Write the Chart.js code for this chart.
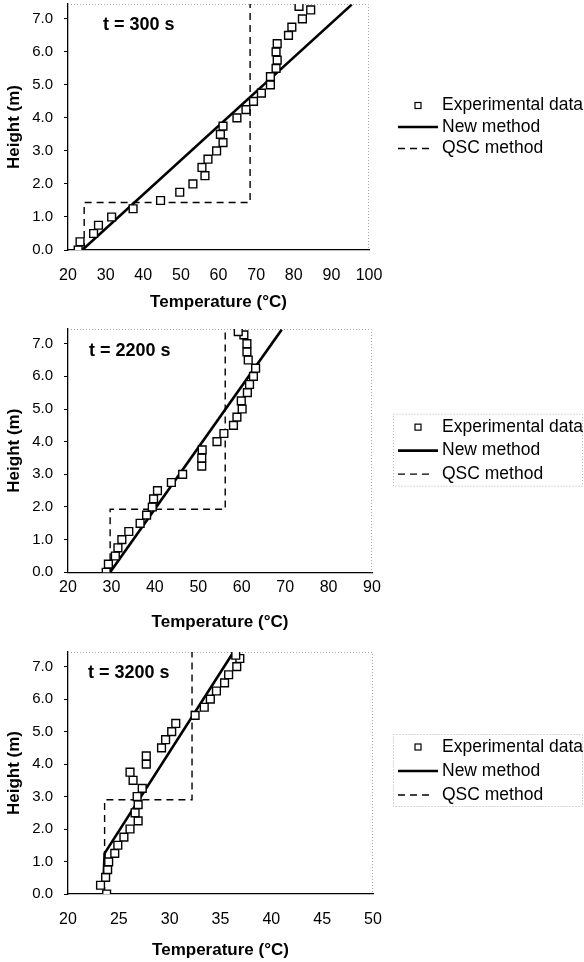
<!DOCTYPE html>
<html>
<head>
<meta charset="utf-8">
<script src="https://cdn.jsdelivr.net/npm/chart.js@4.4.1/dist/chart.umd.min.js"></script>
<style>
  html, body { margin: 0; padding: 0; background: #fff; }
  body { width: 584px; height: 962px; position: relative; overflow: hidden; }
  .panel { position: absolute; left: 0; width: 584px; }
</style>
</head>
<body>
<div class="panel" style="top:0;height:320px"><canvas id="c300"></canvas></div>
<div class="panel" style="top:320px;height:320px"><canvas id="c2200"></canvas></div>
<div class="panel" style="top:640px;height:322px"><canvas id="c3200"></canvas></div>
<script>
// series names and in-plot labels
const seriesNames = ['Experimental data', 'New method', 'QSC method'];
const runLabels = ['t = 300 s', 't = 2200 s', 't = 3200 s'];

// t = 300 s
const expHeight300 = [0, 0.25, 0.5, 0.75, 1.0, 1.25, 1.5, 1.75, 2.0, 2.25, 2.5, 2.75, 3.0, 3.25, 3.5, 3.75, 4.0, 4.25, 4.5, 4.75, 5.0, 5.25, 5.5, 5.75, 6.0, 6.25, 6.5, 6.75, 7.0, 7.27, 7.38];
const expTemp300 = [22.7, 23.2, 26.8, 28.1, 31.6, 37.3, 44.6, 49.7, 53.2, 56.4, 55.6, 57.2, 59.5, 61.2, 60.5, 61.2, 64.9, 67.3, 69.3, 71.4, 73.8, 73.8, 75.3, 75.6, 75.3, 75.6, 78.6, 79.5, 82.3, 84.5, 81.4];
const newTemp300 = [23.8, 95.4];
const newHeight300 = [0, 7.43];
const qscTemp300 = [24.3, 24.3, 68.4, 68.4];
const qscHeight300 = [0, 1.44, 1.44, 7.45];

// t = 2200 s
const expHeight2200 = [0, 0.25, 0.5, 0.75, 1.0, 1.25, 1.5, 1.75, 2.0, 2.25, 2.5, 2.75, 3.0, 3.25, 3.5, 3.75, 4.0, 4.25, 4.5, 4.75, 5.0, 5.25, 5.5, 5.75, 6.0, 6.25, 6.5, 6.75, 7.0, 7.27, 7.37];
const expTemp2200 = [28.8, 29.3, 30.9, 31.5, 32.4, 34.0, 36.6, 38.1, 39.4, 39.7, 40.6, 43.8, 46.4, 50.8, 50.8, 50.9, 54.3, 55.9, 58.1, 58.9, 60.1, 59.9, 61.3, 61.8, 62.7, 63.2, 61.5, 61.2, 61.2, 60.5, 59.2];
const newTemp2200 = [29.7, 69.2];
const newHeight2200 = [0, 7.43];
const qscTemp2200 = [29.7, 29.7, 56.2, 56.2];
const qscHeight2200 = [0, 1.93, 1.93, 7.45];

// t = 3200 s
const expHeight3200 = [0, 0.27, 0.51, 0.75, 0.99, 1.25, 1.5, 1.75, 2.0, 2.25, 2.5, 2.75, 3.0, 3.25, 3.5, 3.75, 4.0, 4.25, 4.5, 4.75, 5.0, 5.25, 5.5, 5.75, 6.0, 6.25, 6.5, 6.75, 7.0, 7.25, 7.35];
const expTemp3200 = [23.8, 23.2, 23.7, 23.9, 24.0, 24.6, 24.9, 25.5, 26.1, 26.9, 26.6, 26.9, 26.8, 27.3, 26.4, 26.1, 27.7, 27.7, 29.2, 29.6, 30.2, 30.6, 32.5, 33.4, 34.0, 34.6, 35.4, 35.8, 36.6, 36.9, 36.5];
const newTemp3200 = [23.5, 23.6, 36.2];
const newHeight3200 = [0.5, 1.25, 7.41];
const qscTemp3200 = [23.6, 23.6, 32.2, 32.2];
const qscHeight3200 = [0, 2.9, 2.9, 7.45];

// axes
const heightTicks = [0, 1, 2, 3, 4, 5, 6, 7];
const heightMax = 7.45;
const tempMin = 20;
const tempMax = [100, 90, 50];
const tempStep = [10, 10, 5];

Chart.defaults.font.family = '"Liberation Sans", Arial, Helvetica, sans-serif';
Chart.defaults.color = '#000';

function pts(xs, ys) {
    return xs.map((x, i) => ({ x: x, y: ys[i] }));
}

// dotted frame on top/right, run label, legend at the right of the plot
const framePlugin = {
    id: 'frame',
    beforeDatasetsDraw(chart, args, opts) {
        const { ctx, chartArea: a } = chart;
        ctx.save();
        ctx.strokeStyle = '#a8a8a8';
        ctx.lineWidth = 1;
        ctx.setLineDash([1, 2]);
        ctx.beginPath();
        ctx.moveTo(a.left, a.top + 0.5);
        ctx.lineTo(a.right - 0.5, a.top + 0.5);
        ctx.lineTo(a.right - 0.5, a.bottom);
        ctx.stroke();
        ctx.restore();
    },
    afterDraw(chart, args, opts) {
        const { ctx, chartArea: a } = chart;
        ctx.save();
        ctx.fillStyle = '#000';
        ctx.font = 'bold 18px "Liberation Sans", Arial, sans-serif';
        ctx.textBaseline = 'middle';
        ctx.fillText(opts.text, a.left + opts.dx, a.top + opts.dy);

        // legend
        const cy = (a.top + a.bottom) / 2 + opts.legendDy;
        const x0 = opts.legendX;
        if (opts.legendBox) {
            ctx.strokeStyle = '#b0b0b0';
            ctx.lineWidth = 1;
            ctx.setLineDash([1, 2]);
            ctx.strokeRect(x0 - 4.5, cy - 36.5, chart.width - x0 + 3, 72);
        }
        ctx.font = '17.5px "Liberation Sans", Arial, sans-serif';
        chart.data.datasets.forEach((ds, i) => {
            const y = cy + (i - 1) * opts.rowGap;
            ctx.strokeStyle = '#000';
            if (!ds.showLine) {
                ctx.setLineDash([]);
                ctx.lineWidth = 1.2;
                ctx.strokeRect(x0 + 17, y - 3, 6, 6);
            } else {
                ctx.lineWidth = ds.borderWidth;
                ctx.setLineDash(ds.borderDash || []);
                ctx.beginPath();
                ctx.moveTo(x0, y);
                ctx.lineTo(ds.borderDash ? x0 + 35 : x0 + 40, y);
                ctx.stroke();
            }
            ctx.fillStyle = '#000';
            ctx.fillText(ds.label, x0 + 44, y);
        });
        ctx.restore();
    }
};

const panels = [
    { id: 'c300', expT: expTemp300, expH: expHeight300, newT: newTemp300, newH: newHeight300, qscT: qscTemp300, qscH: qscHeight300,
      padTop: 4, padBottom: 7.8, padRight: 215, tickGap: 16.4, titlePad: 6.2, dx: 35, dy: 21, legendDy: 0, rowGap: 21.5, legendBox: false },
    { id: 'c2200', expT: expTemp2200, expH: expHeight2200, newT: newTemp2200, newH: newHeight2200, qscT: qscTemp2200, qscH: qscHeight2200,
      padTop: 9, padBottom: 7.8, padRight: 212, tickGap: 6.1, titlePad: 14.2, dx: 21, dy: 22, legendDy: 0, rowGap: 23.5, legendBox: true },
    { id: 'c3200', expT: expTemp3200, expH: expHeight3200, newT: newTemp3200, newH: newHeight3200, qscT: qscTemp3200, qscH: qscHeight3200,
      padTop: 12, padBottom: 1.8, padRight: 211, tickGap: 16.4, titlePad: 10.2, dx: 20, dy: 21, legendDy: -2, rowGap: 24, legendBox: true }
];

panels.forEach(function (p, k) {
    new Chart(document.getElementById(p.id), {
        type: 'scatter',
        data: {
            datasets: [
                {
                    label: seriesNames[0],
                    data: pts(p.expT, p.expH),
                    pointStyle: 'rect',
                    pointRadius: 5.5,
                    borderColor: '#000',
                    backgroundColor: '#fff',
                    borderWidth: 1.4,
                    showLine: false
                },
                {
                    label: seriesNames[1],
                    data: pts(p.newT, p.newH),
                    showLine: true,
                    borderColor: '#000',
                    borderWidth: 2.6,
                    pointRadius: 0
                },
                {
                    label: seriesNames[2],
                    data: pts(p.qscT, p.qscH),
                    showLine: true,
                    borderColor: '#000',
                    borderWidth: 1.4,
                    borderDash: [7, 5],
                    pointRadius: 0
                }
            ]
        },
        options: {
            responsive: true,
            maintainAspectRatio: false,
            animation: false,
            layout: {
                autoPadding: false,
                padding: { top: p.padTop, bottom: p.padBottom, left: 4, right: p.padRight }
            },
            plugins: {
                tooltip: { enabled: false },
                legend: { display: false },
                frame: { text: runLabels[k], dx: p.dx, dy: p.dy, legendBox: p.legendBox, legendX: 398, legendDy: p.legendDy, rowGap: p.rowGap }
            },
            scales: {
                x: {
                    type: 'linear',
                    min: tempMin,
                    max: tempMax[k],
                    ticks: { stepSize: tempStep[k], padding: 0, font: { size: 16 }, color: '#000' },
                    grid: { drawOnChartArea: false, drawTicks: true, tickLength: p.tickGap, tickColor: 'rgba(0,0,0,0)' },
                    border: { color: '#000', width: 1.3 },
                    title: {
                        display: true,
                        text: 'Temperature (°C)',
                        font: { size: 17, weight: 'bold' },
                        color: '#000',
                        padding: { top: p.titlePad, bottom: 0 }
                    }
                },
                y: {
                    type: 'linear',
                    min: 0,
                    max: heightMax,
                    afterBuildTicks: s => { s.ticks = heightTicks.map(v => ({ value: v })); },
                    afterFit: s => { s.width = 64; s.paddingTop = 0; s.paddingBottom = 0; },
                    ticks: { padding: 11, font: { size: 15 }, color: '#000', callback: v => v.toFixed(1) },
                    grid: { drawOnChartArea: false, tickLength: 4, color: '#000' },
                    border: { color: '#000', width: 1.3 },
                    title: {
                        display: true,
                        text: 'Height (m)',
                        font: { size: 17, weight: 'bold' },
                        color: '#000',
                        padding: { top: 0, bottom: 0 }
                    }
                }
            }
        },
        plugins: [framePlugin]
    });
});
</script>
</body>
</html>
